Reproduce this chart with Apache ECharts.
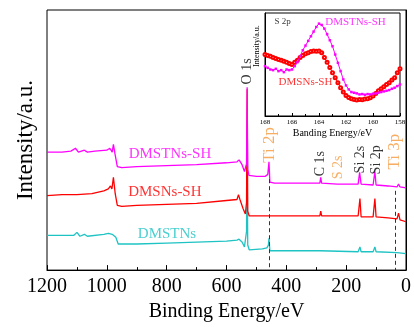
<!DOCTYPE html>
<html>
<head>
<meta charset="utf-8">
<script src="https://cdn.jsdelivr.net/npm/echarts@6/dist/echarts.min.js"></script>
<style>
  html, body { margin: 0; padding: 0; background: #fff; }
  #chart { width: 414px; height: 327px; }
</style>
</head>
<body>
<div id="chart"></div>
<script>
// survey spectra: [binding energy eV, intensity (arb.)]
const dmstnsSH = [
  [1200,122],[1150,122],[1120,123],[1105,126],[1095,122],[1075,124],[1065,122],[1040,123],[1000,124],
  [990,126],[982,122],[978,130],[972,119],[965,107],[950,106],[900,107],[800,108],[700,109],[600,111],
  [565,112],[558,114],[548,109],[540,102],[535,101],[533,110],[531,189],[529,104],[525,98],[500,97],
  [470,97],[462,99],[458,112],[455,91],[440,90],[400,90],[300,90],[288,90],[285,96],[282,90],[230,89],
  [227,91],[224,89],[200,89],[160,89],[155,101],[150,89],[110,88],[104,102],[100,88],[60,87],[30,86],
  [25,89],[20,86],[0,85]
]
const dmsnsSH = [
  [1200,77],[1150,78],[1100,78],[1050,79],[1010,82],[995,84],[988,87],[983,84],[978,96],[972,79],
  [965,67],[950,66],[900,67],[800,68],[700,69],[600,72],[565,73],[560,78],[555,73],[545,64],[537,58],
  [533,70],[531,187],[529,61],[524,56],[500,56],[400,56],[300,56],[288,56],[285,61],[282,56],[200,56],
  [160,56],[154,74],[150,55],[110,55],[104,74],[100,55],[60,54],[30,53],[25,59],[20,52],[0,50]
]
const dmstns = [
  [1200,36],[1110,36],[1100,39],[1090,35],[1075,37],[1065,35],[1010,37],[995,38],[990,36],[982,37],
  [978,39],[970,34],[962,27],[950,27],[900,27],[800,28],[700,29],[600,30],[565,31],[558,32],[548,29],
  [540,24],[535,23],[533,40],[531,120],[529,26],[524,21],[480,22],[465,23],[460,26],[458,33],[455,20],
  [400,20],[300,20],[288,20],[285,22],[282,20],[160,19],[154,24],[150,19],[110,19],[104,24],[100,19],
  [30,18],[0,17]
]

// S 2p inset: [binding energy eV, intensity (arb.)]
const s2pDMSTNsSH = [
  [168,150],[167.8,145],[167.6,140],[167.4,138],[167.2,142],[167,135],[166.8,138],[166.6,132],[166.4,140],
  [166.2,138],[166,140],[165.8,150],[165.6,162],[165.4,180],[165.2,198],[165,212],[164.8,226],[164.6,240],
  [164.4,254],[164.2,268],[164,278],[163.8,274],[163.6,263],[163.4,246],[163.2,228],[163,210],[162.8,185],
  [162.6,160],[162.4,135],[162.2,110],[162,92],[161.8,80],[161.6,72],[161.4,70],[161.2,68],[161,65],
  [160.8,66],[160.6,64],[160.4,66],[160.2,65],[160,67],[159.8,68],[159.6,70],[159.4,72],[159.2,74],
  [159,76],[158.8,78],[158.6,82],[158.4,85],[158.2,90],[158,95]
]
const s2pDMSNsSH = [
  [168,185],[167.8,182],[167.6,180],[167.4,176],[167.2,173],[167,170],[166.8,168],[166.6,165],[166.4,162],
  [166.2,158],[166,155],[165.8,162],[165.6,168],[165.4,176],[165.2,182],[165,187],[164.8,190],[164.6,194],
  [164.4,196],[164.2,195],[164,196],[163.8,190],[163.6,176],[163.4,162],[163.2,146],[163,130],[162.8,115],
  [162.6,100],[162.4,85],[162.2,72],[162,62],[161.8,56],[161.6,52],[161.4,50],[161.2,48],[161,50],
  [160.8,49],[160.6,51],[160.4,52],[160.2,55],[160,60],[159.8,68],[159.6,76],[159.4,82],[159.2,88],
  [159,95],[158.8,100],[158.6,108],[158.4,115],[158.2,130],[158,142]
]

// peak annotations: [eV, label base height, text]
const peakLabels = [
  [531,192,'O 1s'],[455,111,'Ti 2p'],[287,97,'C 1s'],[227,94,'S 2s'],
  [153,100,'Si 2s'],[100,99,'Si 2p'],[37,104,'Ti 3p']
]
const dashedPeaks = [[458,94],[37,82]]

const serif = 'Liberation Serif'
const orange = '#f59a3c'
const peakColor = {'O 1s':'#000','C 1s':'#000','Si 2s':'#000','Si 2p':'#000','Ti 2p':orange,'S 2s':orange,'Ti 3p':orange}
const peakSize = {'Ti 2p':17,'Ti 3p':17}

const chart = echarts.init(document.getElementById('chart'))

chart.setOption({
  backgroundColor: '#fff',
  animation: false,
  grid: [
    {left: 47, right: 7, top: 10, bottom: 48, show: true, borderColor: '#000', borderWidth: 1},
    {left: 265, right: 14, top: 13, bottom: 211, show: true, borderColor: '#000', borderWidth: 1, backgroundColor: '#fff', z: 5}
  ],
  xAxis: [
    {
      gridIndex: 0, type: 'value', min: 0, max: 1200, interval: 200, inverse: true,
      axisLine: {lineStyle: {color: '#000', width: 1}},
      axisTick: {inside: true, length: 5, lineStyle: {color: '#000'}},
      minorTick: {show: true, splitNumber: 2, length: 3, lineStyle: {color: '#000'}},
      splitLine: {show: false},
      axisLabel: {fontFamily: serif, fontSize: 20, color: '#000', margin: 7, formatter: v => String(v)},
      name: 'Binding Energy/eV', nameLocation: 'middle', nameGap: 27,
      nameTextStyle: {fontFamily: serif, fontSize: 20, color: '#000'}
    },
    {
      gridIndex: 1, type: 'value', min: 158, max: 168, interval: 2, inverse: true, z: 6,
      axisLine: {lineStyle: {color: '#000', width: 1}},
      axisTick: {inside: true, length: 3, lineStyle: {color: '#000'}},
      minorTick: {show: true, splitNumber: 2, length: 2, lineStyle: {color: '#000'}},
      splitLine: {show: false},
      axisLabel: {fontFamily: serif, fontSize: 7, color: '#000', margin: 3},
      name: 'Banding Energy/eV', nameLocation: 'middle', nameGap: 12,
      nameTextStyle: {fontFamily: serif, fontSize: 10, color: '#000'}
    }
  ],
  yAxis: [
    {
      gridIndex: 0, type: 'value', min: 0, max: 269,
      axisLine: {show: true, lineStyle: {color: '#000', width: 1}},
      axisTick: {show: false}, axisLabel: {show: false}, splitLine: {show: false},
      name: 'Intensity/a.u.', nameLocation: 'middle', nameGap: 10,
      nameTextStyle: {fontFamily: serif, fontSize: 23, color: '#000'}
    },
    {
      gridIndex: 1, type: 'value', min: 0, max: 310, z: 6,
      axisLine: {show: true, lineStyle: {color: '#000', width: 1}},
      axisTick: {show: false}, axisLabel: {show: false}, splitLine: {show: false}
    }
  ],
  series: [
    {
      name: 'DMSTNs', type: 'line', data: dmstns, xAxisIndex: 0, yAxisIndex: 0,
      symbol: 'none', lineStyle: {color: '#1ec3c3', width: 1.3},
      markLine: {
        silent: true, symbol: 'none', label: {show: false},
        lineStyle: {color: '#333', type: [4, 3], width: 1},
        data: dashedPeaks.map(p => [{coord: [p[0], p[1]]}, {coord: [p[0], 0]}])
      }
    },
    {name: 'DMSNs-SH', type: 'line', data: dmsnsSH, symbol: 'none', lineStyle: {color: '#ff0000', width: 1.3}},
    {name: 'DMSTNs-SH', type: 'line', data: dmstnsSH, symbol: 'none', lineStyle: {color: '#ff00ff', width: 1.3}},
    {
      name: 'peaks', type: 'scatter', symbolSize: 0, silent: true, z: 4,
      data: peakLabels.map(p => ({
        value: [p[0], p[1]], name: p[2],
        label: {color: peakColor[p[2]], fontSize: peakSize[p[2]] || 14}
      })),
      label: {
        show: true, position: 'inside', rotate: 90, align: 'left', verticalAlign: 'middle',
        formatter: p => p.name, fontFamily: serif
      }
    },
    {
      name: 'seriesNames', type: 'scatter', symbolSize: 0, silent: true,
      data: [
        {value: [789, 120], name: 'DMSTNs-SH', label: {color: '#ff00ff'}},
        {value: [806, 81], name: 'DMSNs-SH', label: {color: '#ff0000'}},
        {value: [799, 37], name: 'DMSTNs', label: {color: '#1ec3c3'}}
      ],
      label: {show: true, position: 'inside', formatter: p => p.name, fontFamily: serif, fontSize: 15}
    },
    {
      name: 'S2p DMSNs-SH', type: 'line', xAxisIndex: 1, yAxisIndex: 1, data: s2pDMSNsSH, z: 7,
      symbol: 'emptyCircle', symbolSize: 3, showAllSymbol: true,
      lineStyle: {color: '#ff0000', width: 1}, itemStyle: {color: '#ff0000', borderWidth: 1}
    },
    {
      name: 'S2p DMSTNs-SH', type: 'line', xAxisIndex: 1, yAxisIndex: 1, data: s2pDMSTNsSH, z: 8,
      symbol: 'rect', symbolSize: 2.5, showAllSymbol: true,
      lineStyle: {color: '#ff00ff', width: 1}, itemStyle: {color: '#ff00ff'}
    },
    {
      name: 'insetText', type: 'scatter', xAxisIndex: 1, yAxisIndex: 1, symbolSize: 0, silent: true, z: 9,
      data: [
        {value: [166.7, 284], name: 'S 2p', label: {color: '#000', fontSize: 9}},
        {value: [161.3, 284], name: 'DMSTNs-SH', label: {color: '#ff00ff', fontSize: 11}},
        {value: [165.0, 101], name: 'DMSNs-SH', label: {color: '#ff0000', fontSize: 11}}
      ],
      label: {show: true, position: 'inside', formatter: p => p.name, fontFamily: serif}
    }
  ],
  graphic: [
    {
      type: 'text', x: 257, y: 67, rotation: Math.PI / 2, z: 10,
      style: {text: 'Intensity/a.u.', font: '8px "Liberation Serif"', fill: '#000', textAlign: 'left', textVerticalAlign: 'middle'}
    }
  ]
})
</script>
</body>
</html>
